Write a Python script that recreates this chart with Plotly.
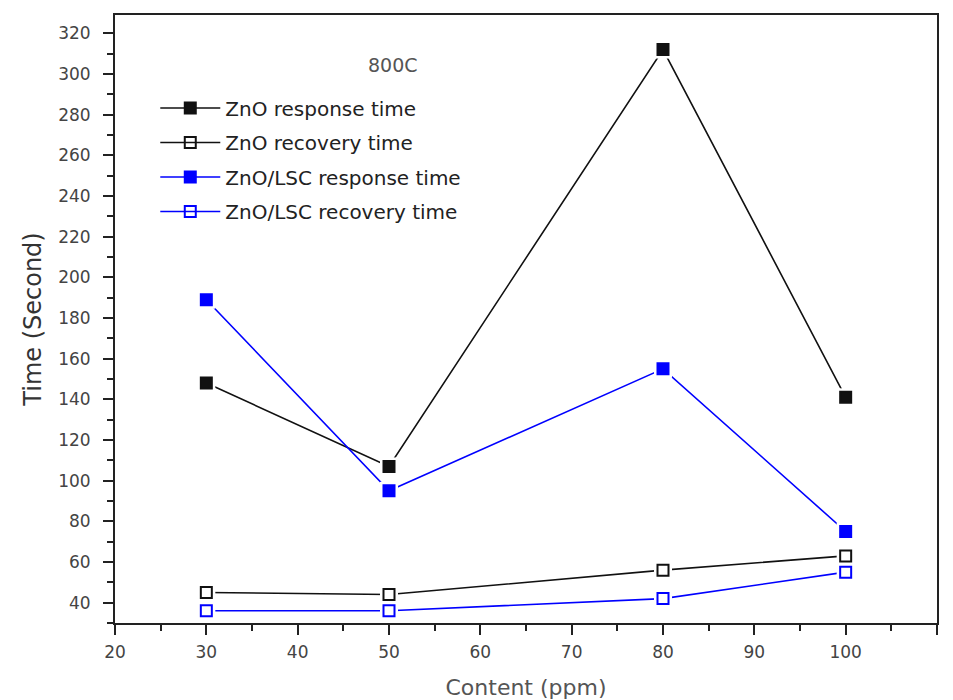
import plotly.graph_objects as go

# Gas concentration (ppm)
content_ppm = [30, 50, 80, 100]

# Response / recovery times (seconds) at 800C
zno_response = [148, 107, 312, 141]
zno_recovery = [45, 44, 56, 63]
lsc_response = [189, 95, 155, 75]
lsc_recovery = [36, 36, 42, 55]

series = [
    ("ZnO response time", zno_response, "#111111", "square"),
    ("ZnO recovery time", zno_recovery, "#111111", "square-open"),
    ("ZnO/LSC response time", lsc_response, "#0000ff", "square"),
    ("ZnO/LSC recovery time", lsc_recovery, "#0000ff", "square-open"),
]

FONT = "DejaVu Sans"
AXIS = "#222222"
TICKTXT = "#444444"

fig = go.Figure()

# connecting lines
for name, vals, color, sym in series:
    fig.add_trace(go.Scatter(
        x=content_ppm, y=vals, mode="lines",
        line=dict(color=color, width=1.6),
        showlegend=False, hoverinfo="skip",
    ))

# white halos leave a small gap between lines and symbols
for name, vals, color, sym in series:
    fig.add_trace(go.Scatter(
        x=content_ppm, y=vals, mode="markers",
        marker=dict(symbol="square", size=18, color="white", line=dict(width=0)),
        showlegend=False, hoverinfo="skip",
    ))

# symbols
for name, vals, color, sym in series:
    fig.add_trace(go.Scatter(
        x=content_ppm, y=vals, mode="markers", name=name,
        marker=dict(symbol=sym, size=11, color=color,
                    line=dict(color=color, width=2)),
        showlegend=False,
    ))

# legend entries (line + symbol), one group each
for i, (name, vals, color, sym) in enumerate(series):
    fig.add_trace(go.Scatter(
        x=[None], y=[None], mode="lines+markers", name=name,
        legendgroup=f"g{i}",
        line=dict(color=color, width=1.6),
        marker=dict(symbol=sym, size=11, color=color,
                    line=dict(color=color, width=2)),
    ))

fig.add_annotation(
    x=0.338, y=0.939, xref="paper", yref="paper", text="800C",
    showarrow=False, font=dict(family=FONT, size=19, color="#555555"),
)

fig.update_layout(
    width=953, height=700,
    margin=dict(l=115, r=16, t=15, b=77),
    paper_bgcolor="white", plot_bgcolor="white",
    font=dict(family=FONT),
    legend=dict(
        x=0.049, y=0.879, xanchor="left", yanchor="top",
        bgcolor="rgba(0,0,0,0)", borderwidth=0,
        font=dict(family=FONT, size=20, color="#222222"),
        tracegroupgap=5.5, itemwidth=60,
    ),
    xaxis=dict(
        range=[20, 110], tickmode="linear", tick0=20, dtick=10,
        showgrid=False, zeroline=False, automargin=False,
        showline=True, linecolor=AXIS, linewidth=2, mirror=True,
        ticks="outside", ticklen=10, tickwidth=2, tickcolor=AXIS,
        ticklabelstandoff=3,
        minor=dict(dtick=5, ticks="outside", ticklen=6, tickwidth=2,
                   tickcolor=AXIS, showgrid=False),
        tickfont=dict(family=FONT, size=17, color=TICKTXT),
        title=dict(text="Content (ppm)", standoff=18,
                   font=dict(family=FONT, size=22, color="#555555")),
    ),
    yaxis=dict(
        range=[30, 329], tickmode="linear", tick0=40, dtick=20,
        showgrid=False, zeroline=False, automargin=False,
        showline=True, linecolor=AXIS, linewidth=2, mirror=True,
        ticks="outside", ticklen=10, tickwidth=2, tickcolor=AXIS,
        ticklabelstandoff=9,
        minor=dict(dtick=10, ticks="outside", ticklen=6, tickwidth=2,
                   tickcolor=AXIS, showgrid=False),
        tickfont=dict(family=FONT, size=17, color=TICKTXT),
        title=dict(text="Time (Second)", standoff=10,
                   font=dict(family=FONT, size=24, color="#333333")),
    ),
)

fig.write_html("out.html")
